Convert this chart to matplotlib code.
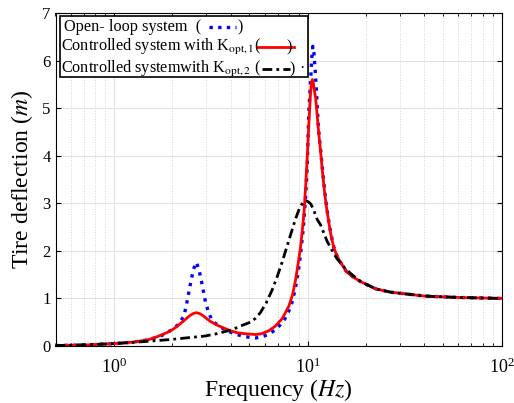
import matplotlib
matplotlib.use("Agg")
import matplotlib.pyplot as plt
from matplotlib.lines import Line2D
from matplotlib.patches import Rectangle

plt.rcParams['font.family'] = ['Liberation Serif', 'DejaVu Serif']
plt.rcParams['mathtext.fontset'] = 'stix'

# open-loop system
f_open = [0.5, 0.7, 1.0, 1.25, 1.5, 1.73, 1.99, 2.15, 2.3, 2.4, 2.5, 2.58, 2.66,
          2.74, 2.83, 2.95, 3.07, 3.2, 3.4, 3.68, 4.0, 4.32, 4.7, 5.06, 5.4, 5.8,
          6.3, 6.82, 7.2, 7.6, 8.0, 8.36, 8.67, 8.98, 9.2, 9.42, 9.57, 9.76, 9.96,
          10.13, 10.36, 10.5, 10.63, 10.78, 10.95, 11.1, 11.23, 11.35, 11.5, 11.68,
          11.96, 12.25, 12.54, 12.85, 13.16, 13.64, 14.14, 14.83, 15.93, 17.31,
          18.82, 22.5, 26.92, 40.0, 60.0, 100.0]
v_open = [0.01, 0.02, 0.05, 0.08, 0.13, 0.2, 0.34, 0.45, 0.63, 0.98, 1.37, 1.62, 1.76,
          1.63, 1.37, 0.98, 0.72, 0.55, 0.45, 0.36, 0.29, 0.24, 0.2, 0.18, 0.17, 0.19,
          0.25, 0.34, 0.44, 0.56, 0.74, 0.95, 1.25, 1.62, 1.95, 2.35, 2.65, 3.15, 3.85,
          4.9, 5.6, 6.05, 6.3, 6.15, 5.75, 5.35, 4.95, 4.62, 4.35, 4.1,
          3.65, 3.25, 2.9, 2.62, 2.37, 2.08, 1.9, 1.75, 1.55, 1.44,
          1.35, 1.2, 1.13, 1.05, 1.02, 1.0]

# controlled, K_opt,1
f_k1 = [0.5, 0.7, 1.0, 1.25, 1.5, 1.66, 1.8, 1.95, 2.1, 2.28, 2.45, 2.56, 2.66,
        2.78, 2.9, 3.14, 3.4, 3.68, 4.0, 4.32, 4.7, 5.06, 5.4, 5.8, 6.3, 6.82, 7.4,
        8.0, 8.36, 8.67, 8.98, 9.2, 9.42, 9.57, 9.76, 9.96, 10.18, 10.36, 10.47,
        10.58, 10.68, 10.78, 11.0, 11.23, 11.44, 11.68, 11.96, 12.25, 12.54, 12.85,
        13.16, 13.64, 14.14, 14.83, 15.93, 17.31, 18.82, 22.5, 26.92, 40.0, 60.0, 100.0]
v_k1 = [0.01, 0.02, 0.05, 0.08, 0.13, 0.19, 0.25, 0.31, 0.4, 0.52, 0.63, 0.68, 0.7,
        0.68, 0.63, 0.52, 0.44, 0.38, 0.32, 0.28, 0.26, 0.25, 0.24, 0.26, 0.32, 0.42, 0.58,
        0.84, 1.08, 1.4, 1.8, 2.1, 2.5, 2.8, 3.35, 4.02, 4.8, 5.35, 5.55,
        5.6, 5.55, 5.42, 5.2, 4.78, 4.42, 4.05, 3.6, 3.2, 2.88, 2.6,
        2.35, 2.07, 1.9, 1.75, 1.55, 1.44, 1.35, 1.2, 1.13, 1.05, 1.02, 1.0]

# controlled, K_opt,2
f_k2 = [0.5, 0.7, 1.0, 1.3, 1.63, 2.0, 2.5, 2.96, 3.41, 3.8, 4.07, 4.5, 5.06, 5.37,
        5.7, 6.1, 6.56, 6.95, 7.38, 7.8, 8.34, 8.65, 8.99, 9.2, 9.4, 9.6, 9.8, 10.1,
        10.4, 10.78, 11.2, 11.68, 12.1, 12.6, 13.16, 13.6, 14.2, 15.4, 16.7, 18.82,
        22.5, 26.92, 40.0, 60.0, 100.0]
v_k2 = [0.01, 0.025, 0.05, 0.08, 0.11, 0.14, 0.18, 0.21, 0.26, 0.31, 0.34, 0.42, 0.5, 0.58,
        0.7, 0.9, 1.18, 1.45, 1.76, 2.08, 2.46, 2.67, 2.85, 2.94, 3.0, 3.04, 3.05, 3.03,
        2.98, 2.84, 2.66, 2.54, 2.38, 2.2, 2.06, 1.95, 1.83, 1.66, 1.52, 1.35,
        1.2, 1.13, 1.05, 1.02, 1.0]

W, H = 514, 403
fig = plt.figure(figsize=(W / 100, H / 100), dpi=100)
ax = fig.add_axes([55.5 / W, 1 - 346 / H, 446 / W, 333 / H])

ax.semilogx(f_open, v_open, ':', color='#0000ff', linewidth=2.4)
ax.semilogx(f_k1, v_k1, '-', color='#ff0000', linewidth=2.0)
ax.semilogx(f_k2, v_k2, color='black', linewidth=2.0, dashes=(3.5, 1.5, 1, 1.5))

ax.set_xlim(0.5, 100)
ax.set_ylim(0, 7)
ax.set_yticks(range(8))
ax.grid(True, which='major', color='#e2e2e2', linestyle='-', linewidth=0.8)
ax.grid(True, which='minor', axis='x', color='#d4d4d4', linestyle=':', linewidth=0.7)
ax.set_axisbelow(True)
ax.tick_params(which='both', direction='in', top=True, right=True)
ax.tick_params(axis='x', labelsize=13, pad=8)
ax.tick_params(axis='y', labelsize=12)
ax.set_xlabel('Frequency ($Hz$)', fontsize=17, labelpad=0)
ax.set_ylabel('Tire deflection ($m$)', fontsize=17, labelpad=5)


def fc(x, y):
    return x / W, 1 - y / H


# hand-drawn legend box as in the original
bx0, by0 = fc(60, 77)
bx1, by1 = fc(308, 16)
fig.patches.append(Rectangle((bx0, by0), bx1 - bx0, by1 - by0, transform=fig.transFigure,
                             facecolor='white', edgecolor='black', linewidth=1.2, zorder=5))

rows = [
    (27, 64, 'Open- loop system  (', 209, 236, (1, 1.6), '#0000ff', 2.4, 238),
    (47, 61, 'Controlled system with K$_{\\mathrm{opt,1}}$(', 258, 294, None, '#ff0000', 2.0, 287),
    (69, 61, 'Controlled systemwith K$_{\\mathrm{opt,2}}$ (', 262, 290, (3.5, 1.5, 1, 1.5), 'black', 2.0, 290),
]
for y, xt, label, l0, l1, dsh, col, lw, xp in rows:
    fig.text(*fc(xt, y), label, fontsize=11.7, va='center', ha='left', zorder=6)
    xa, ya = fc(l0, y)
    xb, _ = fc(l1, y)
    ln = Line2D([xa, xb], [ya, ya], transform=fig.transFigure, color=col, linewidth=lw, zorder=6)
    if dsh is not None:
        ln.set_dashes(dsh)
    fig.lines.append(ln)
    fig.text(*fc(xp, y), ')', fontsize=11.7, va='center', ha='left', zorder=7)
fig.text(*fc(299, 69), '·', fontsize=11.7, va='center', ha='left', zorder=7)

fig.savefig('out.png', dpi=100)
